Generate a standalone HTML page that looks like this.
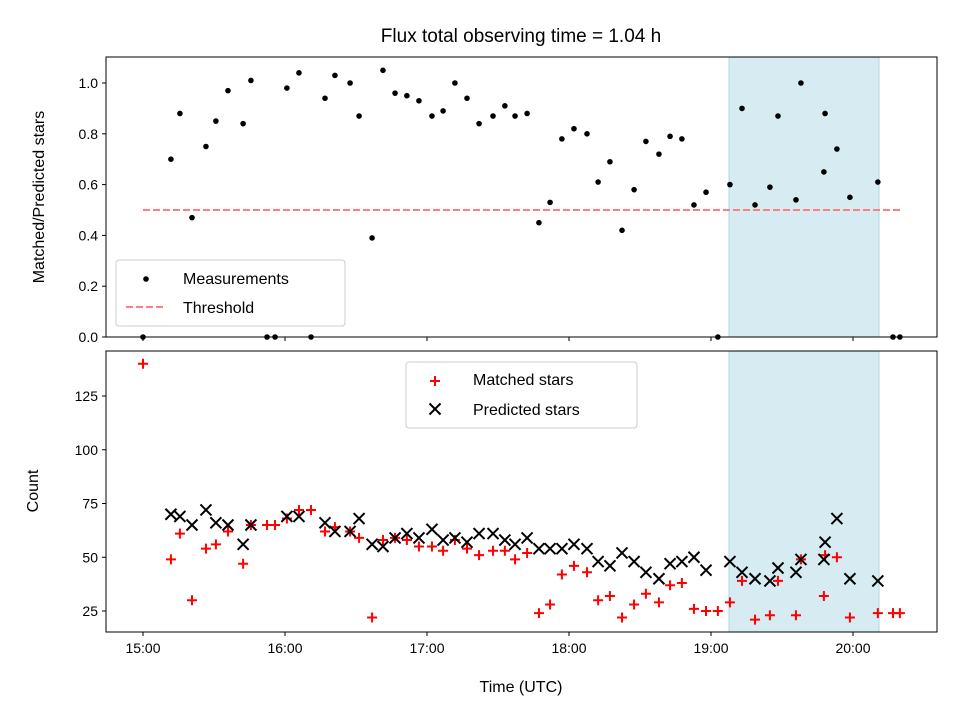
<!DOCTYPE html>
<html><head><meta charset="utf-8"><style>
body{margin:0;background:#fff}
svg{display:block;font-family:"Liberation Sans","DejaVu Sans",sans-serif}
</style></head><body>
<svg id="chart" width="960" height="720" viewBox="0 0 960 720" xmlns="http://www.w3.org/2000/svg">
<rect width="960" height="720" fill="#fff"/>
<text x="521" y="42" font-size="19" text-anchor="middle">Flux total observing time = 1.04 h</text>
<g id="top"></g>
<g id="bottom"></g>
</svg>
<script>
// minutes after 15:00 UTC
const topTimes=[0,11.8,15.6,20.7,26.6,30.8,35.9,42.3,45.6,52.4,55.8,60.8,65.9,71,76.9,81.1,87.5,91.3,96.8,101.4,106.5,111.5,116.6,122.1,126.8,131.8,136.9,142,147.9,152.9,157.2,162.3,167.3,172,177,182.1,187.6,192.3,197.3,202.4,207.5,212.5,218,222.7,227.7,232.8,237.9,242.9,248,253.1,258.6,264.9,268.3,275.9,278,287.7,288.2,293.2,298.7,310.5,316.9,319.8];
const ratioValues=[0,0.70,0.88,0.47,0.75,0.85,0.97,0.84,1.01,0,0,0.98,1.04,0,0.94,1.03,1.0,0.87,0.39,1.05,0.96,0.95,0.93,0.87,0.89,1.0,0.94,0.84,0.87,0.91,0.87,0.88,0.45,0.53,0.78,0.82,0.80,0.61,0.69,0.42,0.58,0.77,0.72,0.79,0.78,0.52,0.57,0,0.60,0.90,0.52,0.59,0.87,0.54,1.00,0.65,0.88,0.74,0.55,0.61,0,0];
const matchedValues=[140,49,61,30,54,56,62,47,65,65,65,68,72,72,62,64,62,59,22,58,59,58,55,55,53,58,54,51,53,53,49,52,24,28,42,46,43,30,32,22,28,33,29,37,38,26,25,25,29,39,21,23,39,23,49,32,51,50,22,24,24,24];
const predTimes=[11.8,15.6,20.7,26.6,30.8,35.9,42.3,45.6,60.8,65.9,76.9,81.1,87.5,91.3,96.8,101.4,106.5,111.5,116.6,122.1,126.8,131.8,136.9,142,147.9,152.9,157.2,162.3,167.3,172,177,182.1,187.6,192.3,197.3,202.4,207.5,212.5,218,222.7,227.7,232.8,237.9,248,253.1,258.6,264.9,268.3,275.9,278,287.7,288.2,293.2,298.7,310.5];
const predValues=[70,69,65,72,66,65,56,65,69,69,66,62,62,68,56,55,59,61,59,63,58,59,57,61,61,58,56,59,54,54,54,56,54,48,46,52,48,43,40,47,48,50,44,48,43,40,39,45,43,49,49,57,68,40,39];
const xTickLabels=["15:00","16:00","17:00","18:00","19:00","20:00"];
const xTickMinutes=[0,60,120,180,240,300];
const topTicks=[0,0.2,0.4,0.6,0.8,1.0];
const bottomTicks=[25,50,75,100,125];
const threshold=0.5;
const thresholdRange=[0,320];
const spanRange=[247.6,311];

const NS="http://www.w3.org/2000/svg";
const L=106,R=937,T1=57,B1=337,T2=351,B2=632;
const xs=m=>143+m*142/60;
const y1=v=>337-v*254;
const y2=v=>611-(v-25)*2.15;
function mk(tag,attrs,parent){const e=document.createElementNS(NS,tag);for(const k in attrs)e.setAttribute(k,attrs[k]);parent.appendChild(e);return e;}
const gt=document.getElementById('top'),gb=document.getElementById('bottom');

function axes(g,T,B,ticks,yf,fmt,name){
  const s=mk('rect',{x:xs(spanRange[0]),y:T,width:xs(spanRange[1])-xs(spanRange[0]),height:B-T,fill:'#add8e6','fill-opacity':0.5,stroke:'#add8e6'},g);
  
  
  ticks.forEach(t=>{
    const y=yf(t);
    mk('line',{x1:L-4,x2:L,y1:y,y2:y,stroke:'#000'},g);
    const tx=mk('text',{x:L-8,y:y+5,'font-size':14,'text-anchor':'end'},g);tx.textContent=fmt(t);
    
    
  });
  xTickMinutes.forEach((m,i)=>{
    mk('line',{x1:xs(m),x2:xs(m),y1:B,y2:B+4,stroke:'#000'},g);
  });
}
function frame(g,T,B,name){
  const f=mk('rect',{x:L,y:T,width:R-L,height:B-T,fill:'none',stroke:'#000','stroke-width':1},g);
  
  
}
axes(gt,T1,B1,topTicks,y1,v=>v.toFixed(1),'top');
axes(gb,T2,B2,bottomTicks,y2,v=>String(v),'bottom');

// threshold
const th=mk('line',{x1:xs(thresholdRange[0]),x2:xs(thresholdRange[1]),y1:y1(threshold),y2:y1(threshold),stroke:'#ff7f7f','stroke-width':2,'stroke-dasharray':'7 3'},gt);


topTimes.forEach((t,i)=>{
  const c=mk('circle',{cx:xs(t),cy:y1(ratioValues[i]),r:2.8,fill:'#000'},gt);
  
  
});
// bottom markers
topTimes.forEach((t,i)=>{
  const x=xs(t),y=y2(matchedValues[i]);
  const p=mk('path',{d:`M${x-5},${y}H${x+5}M${x},${y-5}V${y+5}`,stroke:'#f00','stroke-width':2},gb);
  
  
});
predTimes.forEach((t,i)=>{
  const x=xs(t),y=y2(predValues[i]);
  const p=mk('path',{d:`M${x-5.5},${y-5.5}L${x+5.5},${y+5.5}M${x-5.5},${y+5.5}L${x+5.5},${y-5.5}`,stroke:'#000','stroke-width':2},gb);
  
  
});
// x tick labels bottom
xTickMinutes.forEach((m,i)=>{
  const tx=mk('text',{x:xs(m),y:B2+21,'font-size':14,'text-anchor':'middle'},gb);tx.textContent=xTickLabels[i];
  
  
});
frame(gt,T1,B1,'top');frame(gb,T2,B2,'bottom');

// labels
let e=mk('text',{x:0,y:0,'font-size':16,'text-anchor':'middle',transform:'translate(44,197) rotate(-90)'},gt);e.textContent='Matched/Predicted stars';


e=mk('text',{x:0,y:0,'font-size':16,'text-anchor':'middle',transform:'translate(38,491) rotate(-90)'},gb);e.textContent='Count';


e=mk('text',{x:521,y:692,'font-size':16,'text-anchor':'middle'},gb);e.textContent='Time (UTC)';



// top legend
const lg1=mk('g',{},gt);


mk('rect',{x:116,y:260,width:229,height:66,rx:3,fill:'#fff','fill-opacity':0.85,stroke:'#ccc'},lg1);
mk('circle',{cx:146,cy:279,r:2.8,fill:'#000'},lg1);
e=mk('text',{x:183,y:284,'font-size':16},lg1);e.textContent='Measurements';


mk('line',{x1:126,x2:166,y1:307,y2:307,stroke:'#ff7f7f','stroke-width':2,'stroke-dasharray':'7 3'},lg1);
e=mk('text',{x:183,y:313,'font-size':16},lg1);e.textContent='Threshold';


// bottom legend
const lg2=mk('g',{},gb);


mk('rect',{x:406,y:362,width:231,height:66,rx:3,fill:'#fff','fill-opacity':0.85,stroke:'#ccc'},lg2);
mk('path',{d:'M430,381H440M435,376V386',stroke:'#f00','stroke-width':2},lg2);
e=mk('text',{x:473,y:385,'font-size':16},lg2);e.textContent='Matched stars';


mk('path',{d:'M429.5,403.5L440.5,414.5M429.5,414.5L440.5,403.5',stroke:'#000','stroke-width':2},lg2);
e=mk('text',{x:473,y:415,'font-size':16},lg2);e.textContent='Predicted stars';


</script>
</body></html>
